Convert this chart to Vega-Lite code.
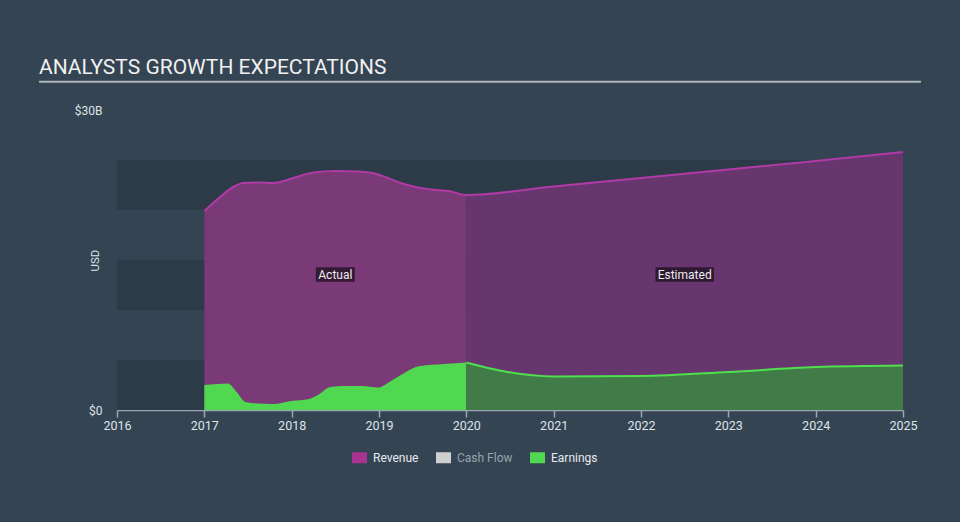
{
  "$schema": "https://vega.github.io/schema/vega-lite/v6.json",
  "width": 786,
  "height": 300,
  "autosize": {"type": "none"},
  "padding": {"left": 117, "top": 110, "right": 57, "bottom": 112},
  "background": "#344453",
  "config": {"view": {"stroke": null}, "font": "Roboto"},
  "title": {
    "text": "ANALYSTS GROWTH EXPECTATIONS",
    "anchor": "start",
    "frame": "group",
    "dx": -78,
    "fontSize": 21,
    "fontWeight": "normal",
    "font": "Roboto",
    "color": "#f0f0f0",
    "baseline": "alphabetic",
    "offset": -14
  },
  "datasets": {
    "bands": [
      {"value": 0, "value2": 5},
      {"value": 10, "value2": 15},
      {"value": 20, "value2": 25}
    ],
    "series": [
      {"series": "Revenue", "year": 2017.0, "value": 19.9},
      {"series": "Revenue", "year": 2017.18, "value": 21.3},
      {"series": "Revenue", "year": 2017.33, "value": 22.3},
      {"series": "Revenue", "year": 2017.45, "value": 22.7},
      {"series": "Revenue", "year": 2017.62, "value": 22.75},
      {"series": "Revenue", "year": 2017.79, "value": 22.7},
      {"series": "Revenue", "year": 2018.02, "value": 23.2},
      {"series": "Revenue", "year": 2018.25, "value": 23.75},
      {"series": "Revenue", "year": 2018.5, "value": 23.9},
      {"series": "Revenue", "year": 2018.75, "value": 23.85},
      {"series": "Revenue", "year": 2018.95, "value": 23.65},
      {"series": "Revenue", "year": 2019.1, "value": 23.2},
      {"series": "Revenue", "year": 2019.25, "value": 22.7},
      {"series": "Revenue", "year": 2019.42, "value": 22.3},
      {"series": "Revenue", "year": 2019.6, "value": 22.05},
      {"series": "Revenue", "year": 2019.8, "value": 21.9},
      {"series": "Revenue", "year": 2020.0, "value": 21.5},
      {"series": "Revenue", "year": 2021.0, "value": 22.35},
      {"series": "Revenue", "year": 2022.0, "value": 23.2},
      {"series": "Revenue", "year": 2023.0, "value": 24.05},
      {"series": "Revenue", "year": 2024.0, "value": 24.9},
      {"series": "Revenue", "year": 2025.0, "value": 25.8},
      {"series": "Earnings", "year": 2017.0, "value": 2.5},
      {"series": "Earnings", "year": 2017.15, "value": 2.6},
      {"series": "Earnings", "year": 2017.27, "value": 2.65},
      {"series": "Earnings", "year": 2017.37, "value": 1.8},
      {"series": "Earnings", "year": 2017.47, "value": 0.8},
      {"series": "Earnings", "year": 2017.6, "value": 0.65},
      {"series": "Earnings", "year": 2017.79, "value": 0.6},
      {"series": "Earnings", "year": 2018.0, "value": 0.9},
      {"series": "Earnings", "year": 2018.2, "value": 1.1},
      {"series": "Earnings", "year": 2018.3, "value": 1.5},
      {"series": "Earnings", "year": 2018.44, "value": 2.3},
      {"series": "Earnings", "year": 2018.6, "value": 2.4},
      {"series": "Earnings", "year": 2018.8, "value": 2.4},
      {"series": "Earnings", "year": 2019.0, "value": 2.25},
      {"series": "Earnings", "year": 2019.1, "value": 2.7},
      {"series": "Earnings", "year": 2019.25, "value": 3.5},
      {"series": "Earnings", "year": 2019.47, "value": 4.4},
      {"series": "Earnings", "year": 2019.75, "value": 4.6},
      {"series": "Earnings", "year": 2020.0, "value": 4.75},
      {"series": "Earnings", "year": 2020.47, "value": 3.8},
      {"series": "Earnings", "year": 2021.0, "value": 3.35},
      {"series": "Earnings", "year": 2022.0, "value": 3.4},
      {"series": "Earnings", "year": 2023.0, "value": 3.8},
      {"series": "Earnings", "year": 2024.0, "value": 4.3},
      {"series": "Earnings", "year": 2025.0, "value": 4.45}
    ],
    "labels": [
      {"label": "Actual", "year": 2018.5, "value": 13.55},
      {"label": "Estimated", "year": 2022.5, "value": 13.55}
    ]
  },
  "layer": [
    {
      "data": {"name": "bands"},
      "mark": {"type": "rect", "color": "#2d3b49"},
      "encoding": {
        "x": {"datum": 2016, "type": "quantitative", "scale": {"domain": [2016, 2025], "nice": false, "zero": false}},
        "x2": {"datum": 2025},
        "y": {"field": "value", "type": "quantitative", "scale": {"domain": [0, 30], "nice": false}},
        "y2": {"field": "value2"}
      }
    },
    {
      "data": {"name": "series"},
      "transform": [{"filter": "datum.series == 'Revenue' && datum.year <= 2020.0001"}],
      "mark": {"type": "area", "interpolate": "monotone", "fill": "#344453"},
      "encoding": {
        "x": {"field": "year", "type": "quantitative"},
        "y": {"field": "value", "type": "quantitative"}
      }
    },
    {
      "data": {"name": "series"},
      "transform": [{"filter": "datum.series == 'Revenue' && datum.year <= 2020.0001"}],
      "mark": {"type": "area", "interpolate": "monotone", "fillOpacity": 0.6},
      "encoding": {
        "x": {
          "field": "year",
          "type": "quantitative",
          "axis": {
            "values": [2016, 2017, 2018, 2019, 2020, 2021, 2022, 2023, 2024, 2025],
            "format": "d",
            "title": null,
            "grid": false,
            "domainColor": "#9aa6b2",
            "domainWidth": 1.5,
            "tickColor": "#9aa6b2",
            "tickWidth": 1.5,
            "tickSize": 7,
            "labelColor": "#dfe3e7",
            "labelFontSize": 12.5,
            "labelFont": "Roboto",
            "labelPadding": 2,
            "labelFlush": false
          }
        },
        "y": {
          "field": "value",
          "type": "quantitative",
          "axis": {
            "values": [0, 30],
            "labelExpr": "datum.value == 0 ? '$0' : '$' + datum.value + 'B'",
            "domain": false,
            "ticks": false,
            "grid": false,
            "labelPadding": 15,
            "labelColor": "#dfe3e7",
            "labelFontSize": 12,
            "labelFont": "Roboto",
            "title": "USD",
            "titleColor": "#dfe3e7",
            "titleFontSize": 11.5,
            "titleFontWeight": "normal",
            "titleFont": "Roboto",
            "titleAngle": -90,
            "titleX": -22,
            "titleY": 150,
            "titleAlign": "center",
            "titleBaseline": "middle"
          }
        },
        "color": {
          "field": "series",
          "type": "nominal",
          "scale": {"domain": ["Revenue", "Cash Flow", "Earnings"], "range": ["#a83390", "#cfcfcf", "#50d850"]},
          "legend": {
            "orient": "none",
            "legendX": 235,
            "legendY": 340,
            "direction": "horizontal",
            "title": null,
            "padding": 0,
            "symbolType": "M-1,-0.733L1,-0.733L1,0.733L-1,0.733Z",
            "symbolSize": 225,
            "symbolOpacity": 1,
            "symbolStrokeWidth": 0,
            "labelFontSize": 12,
            "labelFont": "Roboto",
            "labelOffset": 6,
            "columnPadding": 17,
            "encode": {
              "labels": {"update": {"fill": {"signal": "datum.value === 'Cash Flow' ? '#9aa3ac' : '#e8eaec'"}}}
            }
          }
        }
      }
    },
    {
      "data": {"name": "series"},
      "transform": [{"filter": "datum.series == 'Revenue' && datum.year >= 2019.9999"}],
      "mark": {"type": "area", "interpolate": "monotone", "fill": "#68366e"},
      "encoding": {
        "x": {"field": "year", "type": "quantitative"},
        "y": {"field": "value", "type": "quantitative"}
      }
    },
    {
      "data": {"name": "series"},
      "transform": [{"filter": "datum.series == 'Revenue'"}],
      "mark": {"type": "line", "interpolate": "monotone", "stroke": "#b03aa6", "strokeWidth": 2},
      "encoding": {
        "x": {"field": "year", "type": "quantitative"},
        "y": {"field": "value", "type": "quantitative"}
      }
    },
    {
      "data": {"name": "series"},
      "transform": [{"filter": "datum.series == 'Earnings' && datum.year <= 2020.0001"}],
      "mark": {"type": "area", "interpolate": "monotone", "fillOpacity": 1},
      "encoding": {
        "x": {"field": "year", "type": "quantitative"},
        "y": {"field": "value", "type": "quantitative"},
        "color": {"field": "series", "type": "nominal"}
      }
    },
    {
      "data": {"name": "series"},
      "transform": [{"filter": "datum.series == 'Earnings' && datum.year >= 2019.9999"}],
      "mark": {"type": "area", "interpolate": "monotone", "fill": "#417b48"},
      "encoding": {
        "x": {"field": "year", "type": "quantitative"},
        "y": {"field": "value", "type": "quantitative"}
      }
    },
    {
      "data": {"name": "series"},
      "transform": [{"filter": "datum.series == 'Earnings' && datum.year >= 2019.9999"}],
      "mark": {"type": "line", "interpolate": "monotone", "stroke": "#4ee04e", "strokeWidth": 2},
      "encoding": {
        "x": {"field": "year", "type": "quantitative"},
        "y": {"field": "value", "type": "quantitative"}
      }
    },
    {
      "data": {"name": "labels"},
      "mark": {"type": "point", "filled": true, "color": "#000000", "opacity": 0.55, "strokeWidth": 0, "size": 3411},
      "encoding": {
        "x": {"field": "year", "type": "quantitative"},
        "y": {"field": "value", "type": "quantitative"},
        "shape": {
          "field": "label",
          "type": "nominal",
          "scale": {
            "domain": ["Actual", "Estimated"],
            "range": ["M-0.668,-0.248L0.668,-0.248L0.668,0.248L-0.668,0.248Z", "M-1,-0.248L1,-0.248L1,0.248L-1,0.248Z"]
          },
          "legend": null
        }
      }
    },
    {
      "data": {"name": "labels"},
      "mark": {"type": "text", "color": "#ececec", "fontSize": 12, "font": "Roboto", "baseline": "middle", "align": "center"},
      "encoding": {
        "x": {"field": "year", "type": "quantitative"},
        "y": {"field": "value", "type": "quantitative"},
        "text": {"field": "label"}
      }
    },
    {
      "data": {"values": [{}]},
      "mark": {"type": "rule", "color": "#aeb3b8", "strokeWidth": 2},
      "encoding": {
        "x": {"datum": 2015.107, "type": "quantitative"},
        "x2": {"datum": 2025.206},
        "y": {"datum": 32.82, "type": "quantitative"}
      }
    }
  ]
}
